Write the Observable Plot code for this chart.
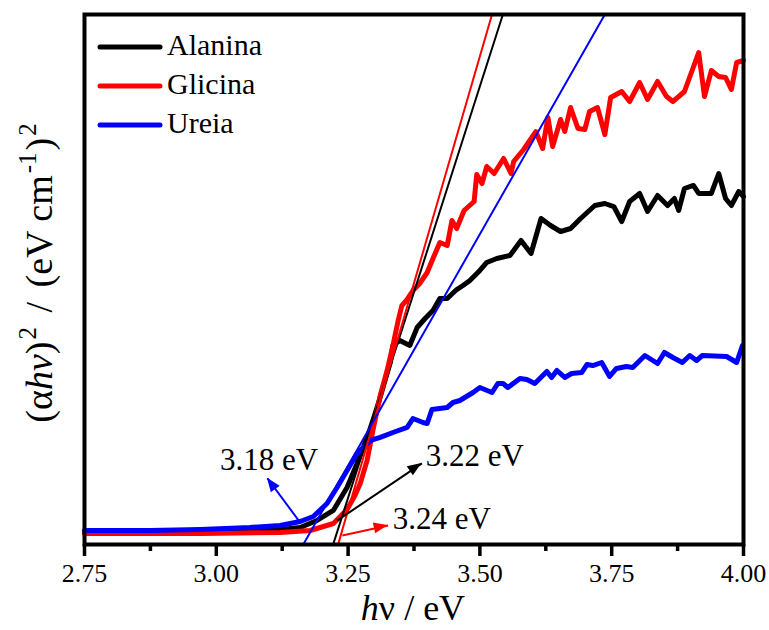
<!DOCTYPE html>
<html>
<head>
<meta charset="utf-8">
<script src="https://cdn.jsdelivr.net/npm/d3@7"></script>
<script src="https://cdn.jsdelivr.net/npm/@observablehq/plot@0.6"></script>
<style>
  html, body { margin: 0; padding: 0; background: white; overflow: hidden; }
</style>
</head>
<body>
<div id="chart"></div>
<script>
// ---- Data ----
const seriesNames = ["Alanina", "Glicina", "Ureia"];
const seriesColors = ["#000000", "#ff0000", "#0000ff"];
const xTicks = [2.75, 3.00, 3.25, 3.50, 3.75, 4.00];
const xMinorTicks = [2.875, 3.125, 3.375, 3.625, 3.875];

const alaninaX = [2.750,2.970,3.064,3.121,3.159,3.191,3.222,3.248,3.267,3.286,3.297,3.309,3.320,3.330,3.335,3.348,3.367,3.381,3.396,3.411,3.424,3.438,3.456,3.468,3.481,3.500,3.513,3.532,3.557,3.578,3.597,3.616,3.634,3.653,3.672,3.691,3.718,3.737,3.754,3.769,3.784,3.803,3.818,3.837,3.856,3.869,3.877,3.888,3.905,3.915,3.939,3.953,3.966,3.977,3.991,4.000];
const alaninaY = [2.45,2.45,2.64,2.83,3.21,4.53,6.42,10.75,15.28,20.19,23.40,27.17,30.94,34.34,37.55,38.49,37.55,40.94,42.64,44.15,46.42,46.42,48.11,48.87,49.81,51.70,53.21,53.96,54.53,57.36,54.91,61.51,60.19,59.06,59.62,61.51,63.96,64.34,63.77,60.94,64.72,66.23,62.83,65.85,63.96,65.28,63.02,67.17,67.74,66.23,66.23,70.00,65.28,63.96,66.60,65.66];

const glicinaX = [2.750,2.970,3.121,3.178,3.222,3.248,3.263,3.273,3.286,3.297,3.311,3.324,3.335,3.345,3.352,3.362,3.373,3.386,3.400,3.411,3.424,3.438,3.447,3.456,3.470,3.489,3.494,3.504,3.513,3.527,3.545,3.559,3.564,3.583,3.606,3.619,3.629,3.638,3.653,3.661,3.672,3.686,3.699,3.708,3.723,3.737,3.748,3.769,3.784,3.803,3.818,3.837,3.854,3.866,3.888,3.915,3.926,3.939,3.953,3.966,3.977,3.987,4.000];
const glicinaY = [2.08,2.08,2.26,2.64,3.96,6.60,9.25,11.51,15.85,21.51,28.11,32.83,37.55,42.26,45.09,46.23,47.92,49.25,51.32,53.96,56.98,56.42,61.13,59.62,63.02,64.72,69.81,68.11,71.32,70.00,72.83,70.00,72.26,74.53,77.92,74.72,80.57,75.09,80.19,77.92,82.45,78.49,78.30,81.70,82.45,77.36,84.34,85.47,83.58,87.17,83.96,87.36,84.53,83.58,85.47,92.83,84.53,89.43,88.30,88.11,85.85,90.94,91.32];

const ureiaX = [2.750,2.875,2.970,3.064,3.121,3.159,3.184,3.210,3.229,3.248,3.267,3.292,3.311,3.335,3.362,3.373,3.392,3.400,3.409,3.438,3.449,3.462,3.487,3.500,3.523,3.534,3.544,3.553,3.576,3.589,3.604,3.627,3.636,3.646,3.661,3.674,3.693,3.703,3.714,3.731,3.746,3.759,3.778,3.790,3.813,3.837,3.850,3.866,3.884,3.898,3.911,3.922,3.968,3.987,3.998];
const ureiaY = [2.64,2.64,2.83,3.21,3.58,4.34,5.28,7.74,10.75,13.96,17.17,19.62,20.20,21.13,22.08,23.77,23.02,22.83,25.47,25.85,26.79,27.17,28.68,29.62,28.68,30.38,30.38,29.62,31.32,31.13,30.38,32.64,31.51,32.83,31.51,32.26,32.45,33.96,33.77,34.34,31.70,33.21,33.58,33.40,35.66,34.15,36.23,35.28,34.34,35.66,34.72,35.66,35.47,34.34,37.55];

// Tangent (fit) lines: x at bottom and top of the y range
const fitX1 = [3.2216, 3.231, 3.165];
const fitX2 = [3.5436, 3.523, 3.737];
const fitY = [0, 100];

// Band-gap annotations
const gapLabels = ["3.22 eV", "3.24 eV", "3.18 eV"];
const labelX = [3.4905, 3.428, 3.100];
const labelY = [16.6, 4.72, 15.85];
const arrowX1 = [3.229, 3.239, 3.159];
const arrowY1 = [4.5, 1.7, 4.15];
const arrowX2 = [3.390, 3.326, 3.097];
const arrowY2 = [15.3, 3.6, 12.5];

// ---- Build tables ----
const curveSets = [[alaninaX, alaninaY], [glicinaX, glicinaY], [ureiaX, ureiaY]];
const curves = curveSets.flatMap(([xs, ys], i) => xs.map((x, j) => ({series: seriesNames[i], x, y: ys[j], color: seriesColors[i]})));
const fits = seriesNames.flatMap((s, i) => [
  {series: s, x: fitX1[i], y: fitY[0], color: seriesColors[i]},
  {series: s, x: fitX2[i], y: fitY[1], color: seriesColors[i]}
]);
const notes = seriesNames.map((s, i) => ({
  series: s, color: seriesColors[i], label: gapLabels[i],
  lx: labelX[i], ly: labelY[i],
  x1: arrowX1[i], y1: arrowY1[i], x2: arrowX2[i], y2: arrowY2[i]
}));

const FONT = "Liberation Serif";

const chart = Plot.plot({
  width: 769,
  height: 630,
  marginLeft: 84,
  marginRight: 26,
  marginTop: 14,
  marginBottom: 86,
  x: {domain: [2.75, 4.0]},
  y: {domain: [0, 100], axis: null},
  style: {fontFamily: FONT, fontSize: "26px", color: "black", background: "white"},
  marks: [
    Plot.line(curves, {x: "x", y: "y", z: "series", stroke: "color", strokeWidth: 5, strokeLinejoin: "round", strokeLinecap: "round"}),
    Plot.line(fits, {x: "x", y: "y", z: "series", stroke: "color", strokeWidth: 2, clip: true}),
    Plot.link(notes, {x1: "x1", y1: "y1", x2: "x2", y2: "y2", stroke: "color", strokeWidth: 2}),
    Plot.text(notes, {x: "lx", y: "ly", text: "label", fontSize: 31, fill: "black", fontFamily: FONT}),
    Plot.frame({stroke: "black", strokeWidth: 4}),
    Plot.axisX({ticks: xTicks, tickFormat: () => "", tickSize: 12, strokeWidth: 3.5, label: null}),
    Plot.axisX({ticks: xMinorTicks, tickFormat: () => "", tickSize: 7, strokeWidth: 3.5, label: null}),
    Plot.text(xTicks, {x: d => d, frameAnchor: "bottom", lineAnchor: "top", dy: 19, text: d => d3.format(".2f")(d), fontSize: 26, fontFamily: FONT, fill: "black"})
  ]
});

document.getElementById("chart").appendChild(chart);
const svg = d3.select(chart);

// ---- Arrowheads, legend and axis titles ----
const sx = chart.scale("x"), sy = chart.scale("y");
const heads = svg.append("g");
notes.forEach(n => {
  const px1 = sx.apply(n.x1), py1 = sy.apply(n.y1);
  const px2 = sx.apply(n.x2), py2 = sy.apply(n.y2);
  const a = Math.atan2(py2 - py1, px2 - px1);
  const L = 14, W = 5.5;
  const bx = px2 - L * Math.cos(a), by = py2 - L * Math.sin(a);
  const pts = [
    [px2, py2],
    [bx + W * Math.sin(a), by - W * Math.cos(a)],
    [bx - W * Math.sin(a), by + W * Math.cos(a)]
  ];
  heads.append("polygon").attr("points", pts.map(p => p.join(",")).join(" ")).attr("fill", n.color);
});

const legend = svg.append("g").attr("font-family", FONT).attr("font-size", 30).attr("text-anchor", "start");
seriesNames.forEach((s, i) => {
  const yy = 47 + i * 39;
  legend.append("line").attr("x1", 100).attr("x2", 160).attr("y1", yy).attr("y2", yy)
    .attr("stroke", seriesColors[i]).attr("stroke-width", 5).attr("stroke-linecap", "round");
  legend.append("text").attr("x", 167).attr("y", yy + 8).attr("fill", "black").attr("text-anchor", "start").text(s);
});

const xt = svg.append("text").attr("x", 413).attr("y", 620).attr("text-anchor", "middle")
  .attr("font-family", FONT).attr("font-size", 36).attr("fill", "black");
xt.append("tspan").attr("font-style", "italic").text("h");
xt.append("tspan").text("ν / eV");

const yt = svg.append("text").attr("transform", "translate(52,273) rotate(-90)").attr("text-anchor", "middle")
  .attr("font-family", FONT).attr("font-size", 38).attr("fill", "black");
yt.append("tspan").text("(α");
yt.append("tspan").attr("font-style", "italic").text("hν");
yt.append("tspan").text(")");
yt.append("tspan").attr("font-size", 25).attr("dx", 2).attr("dy", -16).text("2");
yt.append("tspan").attr("dx", 5).attr("dy", 16).text(" / ");
yt.append("tspan").attr("dx", 5).text("(eV cm");
yt.append("tspan").attr("font-size", 25).attr("dx", 2).attr("dy", -16).text("-1");
yt.append("tspan").attr("dx", 2).attr("dy", 16).text(")");
yt.append("tspan").attr("font-size", 25).attr("dx", 2).attr("dy", -16).text("2");
</script>
</body>
</html>
